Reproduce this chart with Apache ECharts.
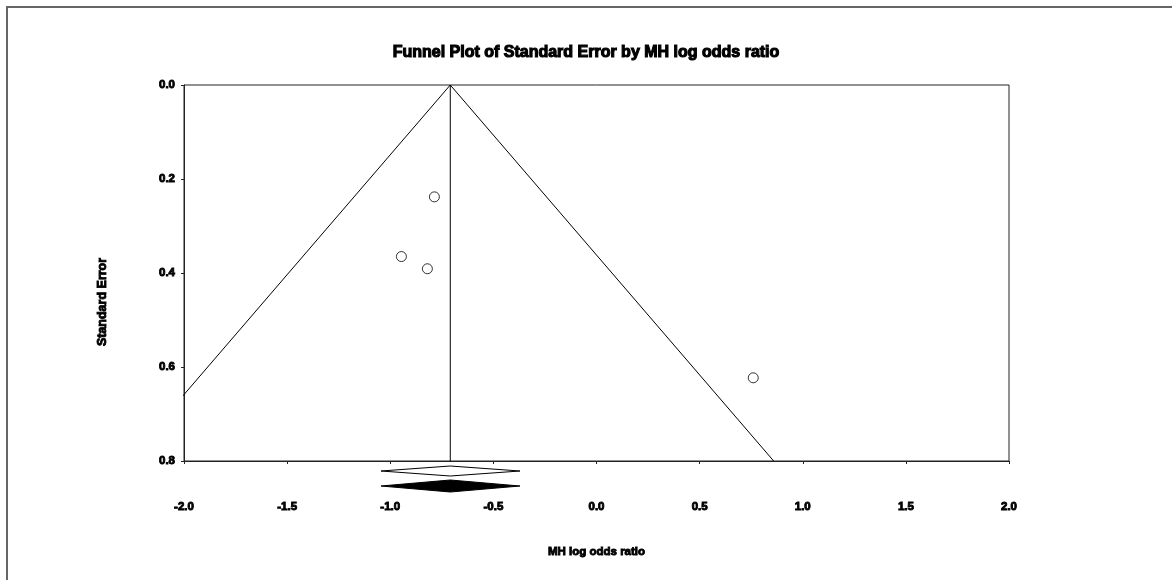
<!DOCTYPE html>
<html>
<head>
<meta charset="utf-8">
<script src="https://cdn.jsdelivr.net/npm/echarts@6/dist/echarts.min.js"></script>
<style>
  html, body { margin: 0; padding: 0; background: #ffffff; }
  #chart { width: 1172px; height: 580px; }
</style>
</head>
<body>
<div id="chart"></div>
<script>
// Individual studies: MH log odds ratio and its standard error
const studyLogOR = [-0.786, -0.946, -0.820, 0.760];
const studySE = [0.238, 0.365, 0.391, 0.623];

// Pooled estimate with its 95% interval (fixed and random rows)
const pooledLogOR = -0.709;
const pooledRows = [
  [-1.045, -0.709, -0.371, 0],
  [-1.045, -0.709, -0.371, 1]
];

// Pseudo 95% confidence limits of the funnel
const funnelLeft = [[-0.709, 0.0], [-2.277, 0.8]];
const funnelRight = [[-0.709, 0.0], [0.859, 0.8]];
const centerLine = [[-0.709, 0.0], [-0.709, 0.8]];

// Axis settings
const xRange = [-2.0, 2.0];
const xStep = 0.5;
const seRange = [0.0, 0.8];
const seStep = 0.2;

const heavy = {
  fontFamily: 'Liberation Sans, Arial, sans-serif',
  fontWeight: 'bold',
  color: '#000',
  textBorderColor: '#000',
  textBorderWidth: 0.9
};

const chart = echarts.init(document.getElementById('chart'), null, { renderer: 'canvas' });

const lineStyle = { color: '#000', width: 1 };

chart.setOption({
  animation: false,
  backgroundColor: '#ffffff',
  title: {
    text: 'Funnel Plot of Standard Error by MH log odds ratio',
    left: 'center',
    top: 40,
    textStyle: Object.assign({}, heavy, { fontSize: 16, textBorderWidth: 1.1 })
  },
  graphic: [
    {
      type: 'rect',
      shape: { x: 7, y: 7, width: 1400, height: 800 },
      style: { fill: 'none', stroke: '#666', lineWidth: 2 },
      silent: true
    },
    {
      // page heading above the chart frame, mostly scrolled out of view
      type: 'text',
      x: 50,
      y: -26,
      style: {
        text: 'Funnel Plot of Standard Error',
        font: '33px "Liberation Sans", Arial, sans-serif',
        fill: '#888',
        verticalAlign: 'top'
      },
      silent: true
    },
    {
      type: 'text',
      x: 103,
      y: 302,
      rotation: Math.PI / 2,
      style: {
        text: 'Standard Error',
        font: 'bold 12.5px "Liberation Sans", Arial, sans-serif',
        fill: '#000',
        stroke: '#000',
        lineWidth: 0.9,
        align: 'center',
        verticalAlign: 'middle'
      },
      silent: true
    }
  ],
  grid: {
    left: 184,
    right: 163,
    top: 85,
    bottom: 119,
    show: true,
    borderColor: '#222',
    borderWidth: 1,
    backgroundColor: 'transparent'
  },
  xAxis: {
    type: 'value',
    min: xRange[0],
    max: xRange[1],
    interval: xStep,
    name: 'MH log odds ratio',
    nameLocation: 'middle',
    nameGap: 85,
    nameTextStyle: Object.assign({}, heavy, { fontSize: 11.5 }),
    axisLine: { show: true, onZero: false, lineStyle: { color: '#222', width: 1 } },
    axisTick: { show: true, length: 3, lineStyle: { color: '#222' } },
    axisLabel: Object.assign({}, heavy, {
      fontSize: 11.5,
      margin: 40,
      formatter: v => v.toFixed(1)
    }),
    splitLine: { show: false }
  },
  yAxis: {
    type: 'value',
    inverse: true,
    min: seRange[0],
    max: seRange[1],
    interval: seStep,
    axisLine: { show: true, onZero: false, lineStyle: { color: '#222', width: 1 } },
    axisTick: { show: true, length: 3, lineStyle: { color: '#222' } },
    axisLabel: Object.assign({}, heavy, {
      fontSize: 11.5,
      margin: 9,
      formatter: v => v.toFixed(1)
    }),
    splitLine: { show: false }
  },
  series: [
    {
      type: 'line',
      data: funnelLeft,
      symbol: 'none',
      lineStyle: lineStyle,
      clip: true,
      z: 2
    },
    {
      type: 'line',
      data: funnelRight,
      symbol: 'none',
      lineStyle: lineStyle,
      clip: true,
      z: 2
    },
    {
      type: 'line',
      data: centerLine,
      symbol: 'none',
      lineStyle: lineStyle,
      clip: true,
      z: 2
    },
    {
      type: 'scatter',
      data: studyLogOR.map((x, i) => [x, studySE[i]]),
      symbol: 'circle',
      symbolSize: 10,
      itemStyle: { color: '#fff', borderColor: '#000', borderWidth: 1 },
      z: 3
    },
    {
      type: 'custom',
      data: pooledRows,
      clip: false,
      renderItem: function (params, api) {
        const row = api.value(3);
        const lo = api.coord([api.value(0), seRange[1]]);
        const mid = api.coord([api.value(1), seRange[1]]);
        const hi = api.coord([api.value(2), seRange[1]]);
        const cy = mid[1] + (row === 0 ? 10 : 25);
        const half = row === 0 ? 5 : 6;
        return {
          type: 'polygon',
          shape: {
            points: [[lo[0], cy], [mid[0], cy - half], [hi[0], cy], [mid[0], cy + half]]
          },
          style: row === 0
            ? { fill: '#fff', stroke: '#000', lineWidth: 1 }
            : { fill: '#000', stroke: '#000', lineWidth: 1 }
        };
      },
      z: 4
    }
  ]
});
</script>
</body>
</html>
